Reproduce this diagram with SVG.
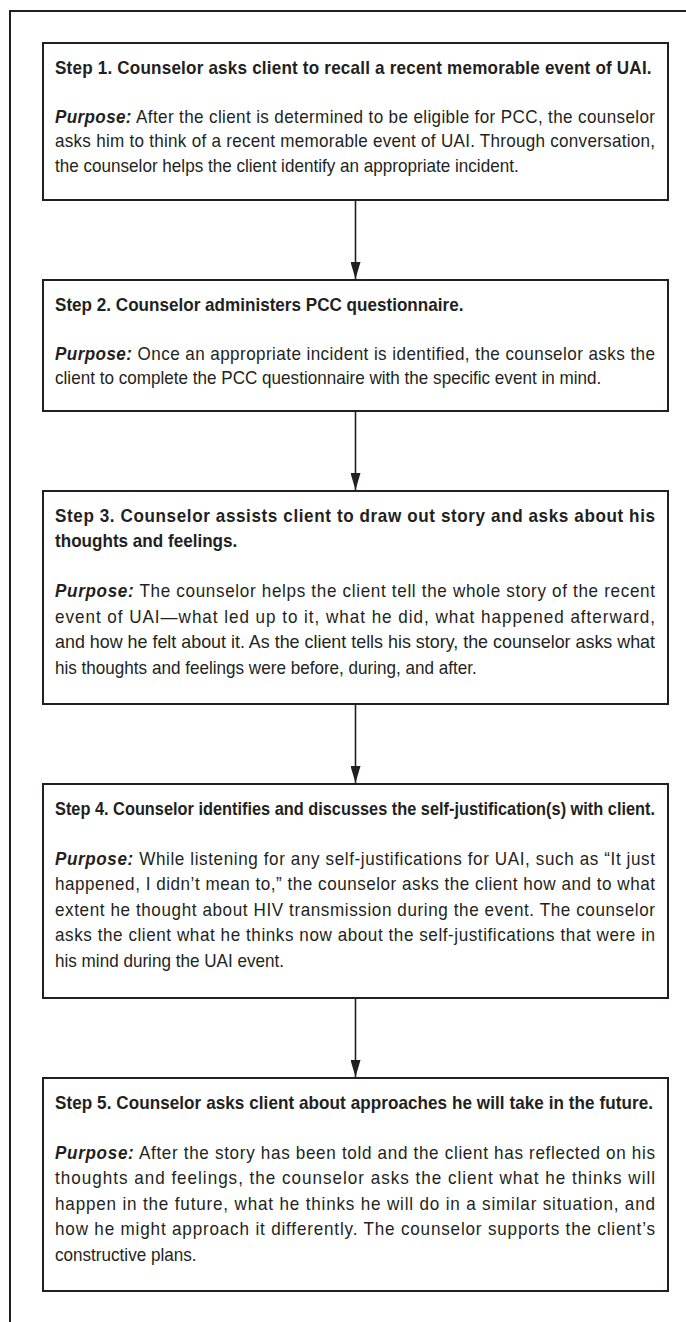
<svg xmlns="http://www.w3.org/2000/svg" width="686" height="1322" viewBox="0 0 686 1322">
<style>
.frame{fill:none;stroke:#231f20;stroke-width:2}
.box{fill:#fff;stroke:#231f20;stroke-width:2}
.t{font-family:"Liberation Sans",Arial,sans-serif;font-size:18px;fill:#231f20}
.h{font-weight:bold}
.pl{font-weight:bold;font-style:italic}
.conn{stroke:#231f20;stroke-width:1.6;fill:none}
</style>
<defs>
<marker id="ah" markerUnits="userSpaceOnUse" viewBox="0 0 17 10" markerWidth="17" markerHeight="10" refX="17" refY="5" orient="auto">
<path d="M0,0 L17,5 L0,10 z" fill="#231f20"/>
</marker>
</defs>
<rect x="0" y="0" width="686" height="1322" fill="#fff"/>
<path class="frame" d="M686,11 H10 V1322"/>

<g id="connectors">
<line class="conn" x1="355.5" y1="200" x2="355.5" y2="279" marker-end="url(#ah)"/>
<line class="conn" x1="355.5" y1="411" x2="355.5" y2="490" marker-end="url(#ah)"/>
<line class="conn" x1="355.5" y1="704" x2="355.5" y2="783" marker-end="url(#ah)"/>
<line class="conn" x1="355.5" y1="998" x2="355.5" y2="1077" marker-end="url(#ah)"/>
</g>

<g id="step1">
<rect class="box" x="43" y="43" width="625" height="157"/>
<g transform="matrix(0.95 0 0 1 2.75 0)">
<text class="t h" x="55" y="74" textLength="628" lengthAdjust="spacing">Step 1. Counselor asks client to recall a recent memorable event of UAI.</text>
<text class="t" x="55" y="123" textLength="631.6" lengthAdjust="spacing"><tspan class="pl">Purpose:</tspan> After the client is determined to be eligible for PCC, the counselor</text>
<text class="t" x="55" y="147.5" textLength="631.6" lengthAdjust="spacing">asks him to think of a recent memorable event of UAI. Through conversation,</text>
<text class="t" x="55" y="172">the counselor helps the client identify an appropriate incident.</text>
</g>
</g>

<g id="step2">
<rect class="box" x="43" y="280" width="625" height="131"/>
<g transform="matrix(0.95 0 0 1 2.75 0)">
<text class="t h" x="55" y="311">Step 2. Counselor administers PCC questionnaire.</text>
<text class="t" x="55" y="360" textLength="631.6" lengthAdjust="spacing"><tspan class="pl">Purpose:</tspan> Once an appropriate incident is identified, the counselor asks the</text>
<text class="t" x="55" y="384.5">client to complete the PCC questionnaire with the specific event in mind.</text>
</g>
</g>

<g id="step3">
<rect class="box" x="43" y="491" width="625" height="213"/>
<g transform="matrix(0.95 0 0 1 2.75 0)">
<text class="t h" x="55" y="522" textLength="631.6" lengthAdjust="spacing">Step 3. Counselor assists client to draw out story and asks about his</text>
<text class="t h" x="55" y="547.5">thoughts and feelings.</text>
<text class="t" x="55" y="597.5" textLength="631.6" lengthAdjust="spacing"><tspan class="pl">Purpose:</tspan> The counselor helps the client tell the whole story of the recent</text>
<text class="t" x="55" y="623" textLength="631.6" lengthAdjust="spacing">event of UAI—what led up to it, what he did, what happened afterward,</text>
<text class="t" x="55" y="648.5" textLength="631.6" lengthAdjust="spacingAndGlyphs">and how he felt about it. As the client tells his story, the counselor asks what</text>
<text class="t" x="55" y="674">his thoughts and feelings were before, during, and after.</text>
</g>
</g>

<g id="step4">
<rect class="box" x="43" y="784" width="625" height="214"/>
<g transform="matrix(0.95 0 0 1 2.75 0)">
<text class="t h" x="55" y="815" textLength="631.6" lengthAdjust="spacingAndGlyphs">Step 4. Counselor identifies and discusses the self-justification(s) with client.</text>
<text class="t" x="55" y="865" textLength="631.6" lengthAdjust="spacing"><tspan class="pl">Purpose:</tspan> While listening for any self-justifications for UAI, such as “It just</text>
<text class="t" x="55" y="890.5" textLength="631.6" lengthAdjust="spacing">happened, I didn’t mean to,” the counselor asks the client how and to what</text>
<text class="t" x="55" y="916" textLength="631.6" lengthAdjust="spacing">extent he thought about HIV transmission during the event. The counselor</text>
<text class="t" x="55" y="941.5" textLength="631.6" lengthAdjust="spacing">asks the client what he thinks now about the self-justifications that were in</text>
<text class="t" x="55" y="967">his mind during the UAI event.</text>
</g>
</g>

<g id="step5">
<rect class="box" x="43" y="1078" width="625" height="213"/>
<g transform="matrix(0.95 0 0 1 2.75 0)">
<text class="t h" x="55" y="1109" textLength="629.5" lengthAdjust="spacing">Step 5. Counselor asks client about approaches he will take in the future.</text>
<text class="t" x="55" y="1159" textLength="631.6" lengthAdjust="spacing"><tspan class="pl">Purpose:</tspan> After the story has been told and the client has reflected on his</text>
<text class="t" x="55" y="1184.5" textLength="631.6" lengthAdjust="spacing">thoughts and feelings, the counselor asks the client what he thinks will</text>
<text class="t" x="55" y="1210" textLength="631.6" lengthAdjust="spacing">happen in the future, what he thinks he will do in a similar situation, and</text>
<text class="t" x="55" y="1235.5" textLength="631.6" lengthAdjust="spacing">how he might approach it differently. The counselor supports the client’s</text>
<text class="t" x="55" y="1261">constructive plans.</text>
</g>
</g>
</svg>
